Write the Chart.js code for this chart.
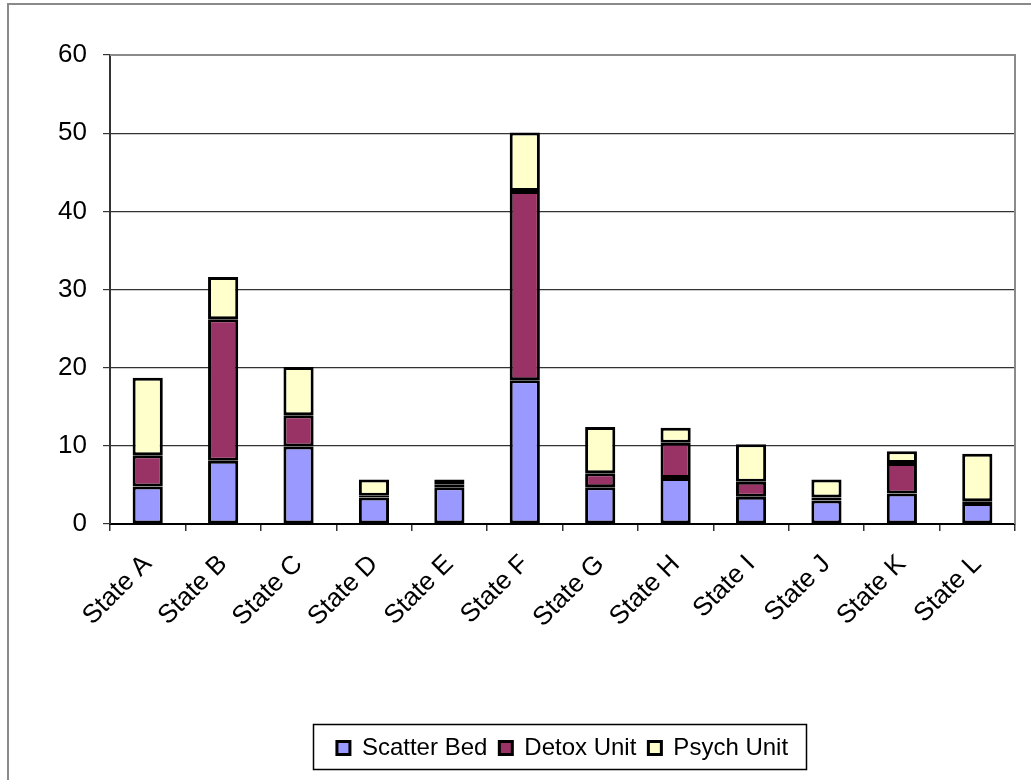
<!DOCTYPE html>
<html>
<head>
<meta charset="utf-8">
<script src="https://cdn.jsdelivr.net/npm/chart.js@4/dist/chart.umd.min.js"></script>
<style>
  html, body { margin: 0; padding: 0; background: #fff; }
  #wrap { width: 1031px; height: 780px; }
</style>
</head>
<body>
<div id="wrap"><canvas id="stateChart"></canvas></div>
<script>
  // Categories and series values
  const states = ['State A', 'State B', 'State C', 'State D', 'State E', 'State F',
                  'State G', 'State H', 'State I', 'State J', 'State K', 'State L'];
  const scatterBed = [4.8, 8.1, 9.9, 3.4, 4.7, 18.4, 4.7, 5.9, 3.5, 3.0, 3.9, 2.7];
  const detoxUnit  = [4.0, 18.1, 4.0, 0.2, 0.4, 24.2, 1.8, 4.5, 1.9, 0.4, 3.9, 0.2];
  const psychUnit  = [9.9, 5.4, 6.2, 2.1, 0.6, 7.5, 5.9, 1.9, 4.8, 2.3, 1.5, 6.1];
  const yTicks = [0, 10, 20, 30, 40, 50, 60];

  const FONT = 'Liberation Sans, Arial, sans-serif';

  // Outer frame, plot-area border and legend box (Excel look)
  const frame = {
    id: 'frame',
    beforeDraw(chart) {
      const ctx = chart.ctx;
      ctx.save();
      ctx.fillStyle = '#fff';
      ctx.fillRect(0, 0, chart.width, chart.height);
      ctx.strokeStyle = '#8a8a8a';
      ctx.lineWidth = 2;
      ctx.strokeRect(8, 4, chart.width + 20, chart.height + 20);
      ctx.restore();
    },
    beforeDatasetsDraw(chart) {
      const { ctx, chartArea: a } = chart;
      ctx.save();
      ctx.strokeStyle = '#8a8a8a';
      ctx.lineWidth = 2;
      ctx.beginPath();
      ctx.moveTo(a.left, a.top);
      ctx.lineTo(a.right, a.top);
      ctx.lineTo(a.right, a.bottom);
      ctx.stroke();
      ctx.restore();
    },
    afterDraw(chart) {
      const lg = chart.legend;
      if (!lg || !lg.legendHitBoxes.length) return;
      const boxes = lg.legendHitBoxes;
      const left = Math.min(...boxes.map(b => b.left)) - 24;
      const right = Math.max(...boxes.map(b => b.left + b.width)) + 18;
      const ctx = chart.ctx;
      ctx.save();
      ctx.strokeStyle = '#000';
      ctx.lineWidth = 1.5;
      ctx.strokeRect(Math.round(left) + 0.5, lg.top + 0.5, Math.round(right - left), lg.height - 1);
      ctx.restore();
    }
  };

  const bar = (label, data, color) => ({
    label: label,
    data: data,
    backgroundColor: color,
    borderColor: '#000',
    borderWidth: 3,
    borderSkipped: false,
    inflateAmount: 0,
    categoryPercentage: 0.4,
    barPercentage: 1.0
  });

  const stateChart = new Chart(document.getElementById('stateChart').getContext('2d'), {
    type: 'bar',
    data: {
      labels: states,
      datasets: [
        bar('Scatter Bed', scatterBed, '#9999ff'),
        bar('Detox Unit', detoxUnit, '#993366'),
        bar('Psych Unit', psychUnit, '#ffffcc')
      ]
    },
    options: {
      responsive: true,
      maintainAspectRatio: false,
      animation: false,
      layout: { padding: { top: 55, right: 16, bottom: 10, left: 0 } },
      scales: {
        x: {
          stacked: true,
          afterFit(scale) { scale.height = 200; },
          grid: {
            offset: true,
            drawOnChartArea: false,
            drawTicks: true,
            tickLength: 7,
            color: '#333',
            lineWidth: 1.5
          },
          border: { color: '#000', width: 2 },
          ticks: {
            color: '#000',
            font: { family: FONT, size: 26 },
            minRotation: 45,
            maxRotation: 45,
            padding: 18,
            autoSkip: false
          }
        },
        y: {
          stacked: true,
          min: 0,
          max: 60,
          afterFit(scale) { scale.width = 110; },
          afterBuildTicks(scale) { scale.ticks = yTicks.map(v => ({ value: v })); },
          grid: {
            color: '#333',
            lineWidth: 1.2,
            tickLength: 7
          },
          border: { color: '#333', width: 2 },
          ticks: {
            color: '#000',
            font: { family: FONT, size: 26 },
            padding: 16
          }
        }
      },
      plugins: {
        legend: {
          position: 'bottom',
          fullSize: false,
          labels: {
            color: '#000',
            font: { family: FONT, size: 24 },
            boxWidth: 13,
            boxHeight: 13,
            padding: 12
          }
        },
        tooltip: { enabled: false }
      }
    },
    plugins: [frame]
  });
</script>
</body>
</html>
